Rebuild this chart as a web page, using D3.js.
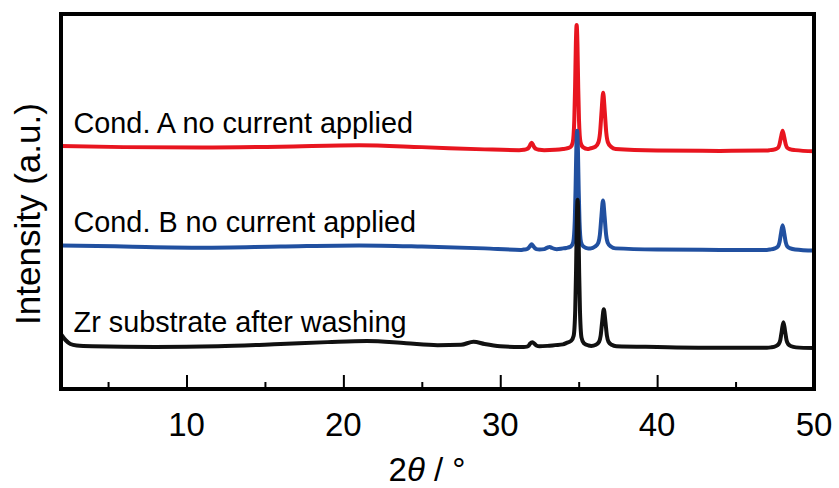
<!DOCTYPE html>
<html>
<head>
<meta charset="utf-8">
<script src="https://cdn.jsdelivr.net/npm/d3@7"></script>
<style>
  body { margin: 0; background: #fff; }
  svg { display: block; font-family: 'Liberation Sans', Arial, sans-serif; }
</style>
</head>
<body>
<div id="chart"></div>
<script>
/* ===== XRD patterns ===== */

// [2theta, intensity (a.u., offset included)]
const redSeries = [
  [2, 64.8], [6, 64.5], [11, 64.4], [16, 64.6], [21, 65.0], [25, 64.5], [29, 63.9], [31.2, 63.7],
  [31.5, 63.8], [31.7, 64.0], [31.8, 64.3], [31.9, 65.0], [32.0, 65.7], [32.1, 65.0], [32.2, 64.3],
  [32.3, 64.0], [32.5, 63.8], [32.8, 63.7], [33.5, 63.8], [34.0, 64.0],
  [34.17, 64.1], [34.47, 64.5], [34.62, 65.7], [34.72, 71.7], [34.77, 80.4], [34.82, 92.1], [34.87, 97.1],
  [34.92, 92.1], [34.97, 80.4], [35.02, 71.7], [35.12, 65.7], [35.27, 64.5], [35.57, 64.0],
  [35.76, 64.2], [36.06, 64.6], [36.26, 65.8], [36.36, 68.3], [36.46, 74.1], [36.56, 79.0],
  [36.66, 74.1], [36.76, 68.3], [36.86, 65.8], [37.06, 64.6], [37.36, 64.0],
  [40, 63.6], [44, 63.5], [47.0, 63.6],
  [47.2, 63.7], [47.5, 63.9], [47.7, 64.3], [47.8, 65.2], [47.9, 67.2], [48.0, 68.9], [48.1, 67.2],
  [48.2, 65.2], [48.3, 64.3], [48.5, 63.9], [48.8, 63.7], [50, 63.4]
];

const blueSeries = [
  [2, 38.3], [6, 38.0], [11, 37.7], [16, 38.0], [21, 38.3], [25, 38.0], [29, 37.5], [31.3, 37.1],
  [31.5, 37.2], [31.7, 37.3], [31.8, 37.6], [31.9, 38.1], [32.0, 38.6], [32.1, 38.1], [32.2, 37.6],
  [32.3, 37.3], [32.5, 37.2], [32.8, 37.3], [33.0, 37.7], [33.15, 37.9], [33.3, 37.6], [33.6, 37.3],
  [34.0, 37.5], [34.2, 37.6], [34.5, 38.0], [34.65, 39.1], [34.75, 44.8], [34.8, 53.1], [34.85, 64.1],
  [34.9, 68.9], [34.95, 64.1], [35.0, 53.1], [35.05, 44.8], [35.15, 39.1], [35.3, 38.0], [35.6, 37.5],
  [35.75, 37.5], [36.05, 38.0], [36.25, 39.0], [36.35, 41.1], [36.45, 46.1], [36.55, 50.3],
  [36.65, 46.1], [36.75, 41.1], [36.85, 39.0], [37.05, 38.0], [37.35, 37.5],
  [40, 37.2], [44, 37.1], [47, 37.1],
  [47.2, 37.2], [47.5, 37.5], [47.7, 38.0], [47.8, 39.1], [47.9, 41.6], [48.0, 43.7], [48.1, 41.6],
  [48.2, 39.1], [48.3, 38.0], [48.5, 37.5], [48.8, 37.2], [50, 36.9]
];

const blackSeries = [
  [2.0, 14.6], [2.3, 13.0], [2.6, 12.0], [3.0, 11.6], [4, 11.4], [8, 11.2], [12, 11.4], [16, 12.0],
  [19, 12.5], [21.5, 12.8], [24, 12.2], [26, 11.7], [27.5, 11.8], [28.3, 12.6], [29, 12.0], [30, 11.4],
  [31.3, 11.2], [31.5, 11.2], [31.7, 11.3], [31.8, 11.5], [31.9, 12.1], [32.05, 12.5], [32.2, 12.0],
  [32.3, 11.6], [32.5, 11.4], [33, 11.5], [33.5, 11.7], [34.0, 11.9],
  [34.23, 12.3], [34.53, 12.9], [34.68, 14.2], [34.78, 21.1], [34.83, 31.0], [34.88, 44.6], [34.93, 50.5],
  [34.98, 44.6], [35.03, 31.0], [35.08, 21.1], [35.18, 13.7], [35.33, 12.2], [35.63, 11.6],
  [35.8, 11.5], [36.1, 11.8], [36.3, 12.6], [36.4, 14.2], [36.5, 18.1], [36.6, 21.3], [36.7, 18.1],
  [36.8, 14.2], [36.9, 12.6], [37.1, 11.8], [37.4, 11.4],
  [40, 11.2], [44, 11.0], [47, 11.0],
  [47.25, 11.1], [47.55, 11.4], [47.75, 12.0], [47.85, 13.0], [47.95, 15.6], [48.05, 17.8], [48.15, 15.6],
  [48.25, 13.0], [48.35, 12.0], [48.55, 11.4], [48.85, 11.1], [50, 10.9]
];

const seriesNames = ['Cond. A no current applied', 'Cond. B no current applied', 'Zr substrate after washing'];
const seriesColors = ['#e8151f', '#2150a0', '#111111'];
const labelLevels = [68.3, 41.9, 15.2];   // intensity where each label baseline sits

const xDomain = [2, 50];
const yDomain = [0, 100];
const majorTicks = [10, 20, 30, 40, 50];
const minorTicks = [5, 15, 25, 35, 45];

function initXrdChart() {
  const container = document.getElementById('chart');
  const fullWidth = 839;
  const fullHeight = 488;
  const plot = { left: 61, right: 814, top: 14, bottom: 389 };

  const svg = d3.select(container)
    .append('svg')
    .attr('width', fullWidth)
    .attr('height', fullHeight);

  const x = d3.scaleLinear().domain(xDomain).range([plot.left, plot.right]);
  const y = d3.scaleLinear().domain(yDomain).range([plot.bottom, plot.top]);

  svg.append('defs').append('clipPath')
    .attr('id', 'plot-clip')
    .append('rect')
    .attr('x', plot.left).attr('y', plot.top)
    .attr('width', plot.right - plot.left)
    .attr('height', plot.bottom - plot.top);

  const line = d3.line()
    .x(d => x(d[0]))
    .y(d => y(d[1]))
    .curve(d3.curveMonotoneX);

  // Curves: red first, black on top
  const allSeries = [redSeries, blueSeries, blackSeries];
  svg.append('g')
    .attr('clip-path', 'url(#plot-clip)')
    .selectAll('path')
    .data(allSeries)
    .join('path')
    .attr('fill', 'none')
    .attr('stroke', (d, i) => seriesColors[i])
    .attr('stroke-width', 4)
    .attr('stroke-linejoin', 'round')
    .attr('stroke-linecap', 'round')
    .attr('d', line);

  // Curve labels
  svg.selectAll('.curve-label')
    .data(seriesNames)
    .join('text')
    .attr('class', 'curve-label')
    .attr('x', x(2.8))
    .attr('y', (d, i) => y(labelLevels[i]))
    .attr('fill', '#000')
    .attr('font-size', '28.8px')
    .text(d => d);

  // Inward ticks on bottom axis
  const axisG = svg.append('g').attr('transform', `translate(0,${plot.bottom})`);
  axisG.call(d3.axisBottom(x).tickValues(majorTicks.filter(t => t < 50)).tickSize(-14).tickFormat(''))
    .call(g => g.select('.domain').remove());
  axisG.append('g')
    .call(d3.axisBottom(x).tickValues(minorTicks).tickSize(-7).tickFormat(''))
    .call(g => g.select('.domain').remove());
  axisG.selectAll('line').attr('stroke', '#000').attr('stroke-width', 2);

  // Tick labels
  svg.selectAll('.x-label')
    .data(majorTicks)
    .join('text')
    .attr('class', 'x-label')
    .attr('x', d => x(d))
    .attr('y', 436)
    .attr('text-anchor', 'middle')
    .attr('fill', '#000')
    .attr('font-size', '33px')
    .text(d => d);

  // Frame
  svg.append('rect')
    .attr('x', plot.left).attr('y', plot.top)
    .attr('width', plot.right - plot.left)
    .attr('height', plot.bottom - plot.top)
    .attr('fill', 'none')
    .attr('stroke', '#000')
    .attr('stroke-width', 4);

  // Axis titles
  const xt = svg.append('text')
    .attr('x', 427)
    .attr('y', 481)
    .attr('text-anchor', 'middle')
    .attr('fill', '#000')
    .attr('font-size', '33px');
  xt.append('tspan').text('2');
  xt.append('tspan').attr('font-style', 'italic').text('θ');
  xt.append('tspan').text(' / °');

  svg.append('text')
    .attr('transform', 'translate(40,214) rotate(-90)')
    .attr('text-anchor', 'middle')
    .attr('fill', '#000')
    .attr('font-size', '35px')
    .text('Intensity (a.u.)');
}

initXrdChart();
</script>
</body>
</html>
